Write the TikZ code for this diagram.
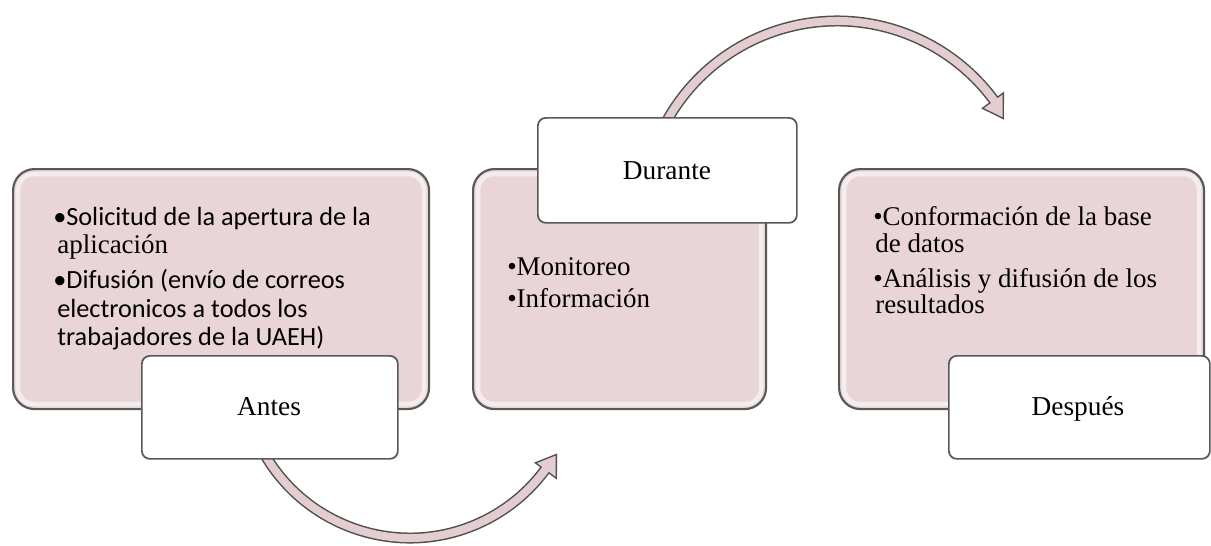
\documentclass[tikz,border=0pt]{standalone}
\usepackage{fontspec}
\setmainfont{Liberation Serif}
\newfontfamily\calib{Carlito}
\begin{document}
\begin{tikzpicture}[x=0.75pt,y=-0.75pt,
  bigbox/.style={draw=boxline, line width=1.6pt, fill=boxpink, rounded corners=16pt, inner sep=0pt, anchor=north west},
  labbox/.style={draw=boxline, line width=1.3pt, fill=white, rounded corners=6pt, inner sep=0pt, anchor=north west},
  glow/.style={draw=white, draw opacity=0.55, line width=3.5pt, rounded corners=12pt},
  sanstxt/.style={inner sep=0pt, anchor=base west, font=\calib\fontsize{19.7pt}{21pt}\selectfont},
  sertxt/.style={inner sep=0pt, anchor=base west, font=\fontsize{20.25pt}{21pt}\selectfont},
  labtxt/.style={inner sep=0pt, anchor=base, font=\fontsize{20.5pt}{21pt}\selectfont},
  bandout/.style={draw=arrline, line width=8.25pt},
  bandin/.style={draw=arrpink, line width=6pt},
  head/.style={fill=arrpink, draw=arrline, line width=1pt, line join=miter}]
\definecolor{boxpink}{RGB}{233,213,215}
\definecolor{boxline}{RGB}{88,88,88}
\definecolor{arrpink}{RGB}{228,205,209}
\definecolor{arrline}{RGB}{80,80,80}
\useasboundingbox[fill=white] (0,0) rectangle (1211,546);

% lower arrow (Antes -> Durante)
\coordinate (la) at (257.7,441);
\draw[bandout] (la) arc[start angle=155, end angle=36.5, radius=168];
\coordinate (lhi) at (535.4,462.8);
\coordinate (lho) at (556.3,478.3);
\coordinate (lht) at (556.4,454.5);
\draw[head] (lhi) -- (lht) -- (lho) -- cycle;
\draw[bandin] (la) arc[start angle=155, end angle=35, radius=168];

% upper arrow (Durante -> Despues)
\coordinate (ua) at (660.3,133.6);
\draw[bandout] (ua) arc[start angle=-155, end angle=-36.5, radius=195];
\coordinate (uhi) at (982.5,108.3);
\coordinate (uho) at (1003.4,92.9);
\coordinate (uht) at (1003.2,118.5);
\draw[head] (uhi) -- (uht) -- (uho) -- cycle;
\draw[bandin] (ua) arc[start angle=-155, end angle=-35, radius=195];

% big boxes
\node[bigbox, minimum width=312pt, minimum height=180pt] (b1) at (12,168) {};
\node[bigbox, minimum width=219.75pt, minimum height=180pt] (b2) at (472,168) {};
\node[bigbox, minimum width=273.75pt, minimum height=180pt] (b3) at (838,168) {};
\foreach \b in {b1,b2,b3}{
  \draw[glow] ([shift={(6,6)}]\b.north west) rectangle ([shift={(-6,-6)}]\b.south east);
}

% label boxes
\node[labbox, minimum width=192pt, minimum height=77.25pt] (l1) at (141,355) {};
\node[labbox, minimum width=194.25pt, minimum height=78.75pt] (l2) at (537,117) {};
\node[labbox, minimum width=195.75pt, minimum height=77.25pt] (l3) at (948,355) {};

\node[labtxt] (antes) at (269,415) {Antes};
\node[labtxt] (durante) at (667,179) {Durante};
\node[labtxt] (despues) at (1078,415) {Después};

% box 1 text
\node[sanstxt] (t1) at (53,225) {•Solicitud de la apertura de la};
\node[sertxt] (t2) at (57,253) {aplicación};
\node[sanstxt] (t3) at (53,288) {•Difusión (envío de correos};
\node[sanstxt] (t4) at (57,317) {electronicos a todos los};
\node[sanstxt] (t5) at (57,345) {trabajadores de la UAEH)};

% box 2 text
\node[sertxt] (m1) at (507,275) {•Monitoreo};
\node[sertxt] (m2) at (507,307) {•Información};

% box 3 text
\node[sertxt] (r1) at (873,225) {•Conformación de la base};
\node[sertxt] (r2) at (875,252) {de datos};
\node[sertxt] (r3) at (873,287) {•Análisis y difusión de los};
\node[sertxt] (r4) at (875,313) {resultados};
\end{tikzpicture}
\end{document}
